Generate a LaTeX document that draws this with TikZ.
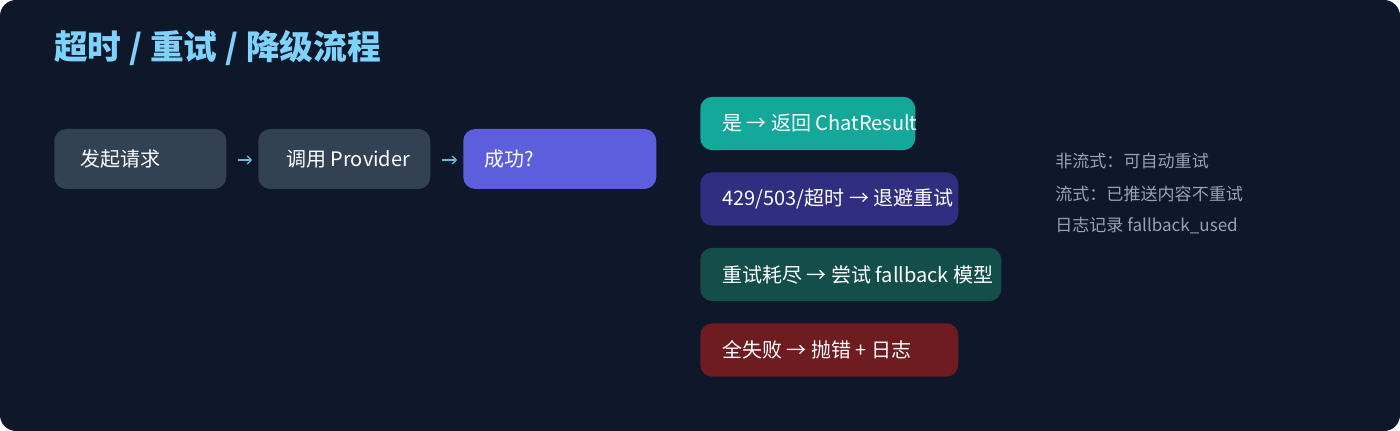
\documentclass[tikz,border=0pt]{standalone}
\usepackage{fontspec}
\setmainfont{Noto Sans CJK SC}
\usetikzlibrary{arrows.meta}
\definecolor{bgc}{HTML}{0F172A}
\definecolor{slatebox}{HTML}{334155}
\definecolor{okc}{HTML}{5C5EDD}
\definecolor{tealc}{HTML}{14A89A}
\definecolor{indigoc}{HTML}{312E81}
\definecolor{darkteal}{HTML}{134E4A}
\definecolor{redc}{HTML}{6E1C20}
\definecolor{titlec}{HTML}{7DD3FC}
\definecolor{arrowc}{HTML}{67B8E3}
\definecolor{notec}{HTML}{94A3B8}
\newcommand\bt[2]{\makebox[#1][l]{#2}}
\begin{document}
\begin{tikzpicture}[x=0.75pt,y=-0.75pt,
  flowbox/.style={rounded corners=9pt, inner ysep=0pt, text=white, font=\fontsize{15}{18}\selectfont, anchor=west},
  leftbox/.style={flowbox, minimum height=45pt},
  rightbox/.style={flowbox, minimum height=40pt, inner xsep=16.5pt},
  flowarrow/.style={draw=arrowc, line width=0.9pt, -{Straight Barb[length=3pt,width=6pt]}, shorten <=8.25pt, shorten >=4.5pt},
  note/.style={anchor=west, inner sep=0pt, text=notec, font=\fontsize{12.8}{15}\selectfont}]
\useasboundingbox (0,0) rectangle (1400,431);
\fill[bgc, rounded corners=12pt] (0,0) rectangle (1400,431);
\node[anchor=west, inner sep=0pt, font=\fontsize{25.3}{30}\selectfont\bfseries, text=titlec] (title) at (54,48) {超时 / 重试 / 降级流程};
\node[leftbox, fill=slatebox, inner xsep=19.5pt] (start) at (54,159) {\bt{90pt}{发起请求}};
\node[leftbox, fill=slatebox, inner xsep=21pt] (call) at (258,159) {\bt{87pt}{调用 Provider}};
\node[leftbox, fill=okc, inner xsep=15.75pt] (ok) at (463,159) {\bt{113.25pt}{成功?}};
\draw[flowarrow] ([yshift=-0.75pt]start.east) -- ([yshift=-0.75pt]call.west);
\draw[flowarrow] ([yshift=-0.75pt]call.east) -- ([yshift=-0.75pt]ok.west);
\node[rightbox, fill=tealc] (yes) at (700,123.5) {\bt{128.25pt}{是 → 返回 ChatResult}};
\node[rightbox, fill=indigoc] (retry) at (700,199) {\bt{160.5pt}{429/503/超时 → 退避重试}};
\node[rightbox, fill=darkteal] (fallback) at (700,274.5) {\bt{192.75pt}{重试耗尽 → 尝试 fallback 模型}};
\node[rightbox, fill=redc] (fail) at (700,350) {\bt{160.5pt}{全失败 → 抛错 + 日志}};
\node[note] (n1) at (1055,161) {非流式：可自动重试};
\node[note] (n2) at (1055,194) {流式：已推送内容不重试};
\node[note] (n3) at (1055,226) {日志记录 fallback\_used};
\end{tikzpicture}
\end{document}
